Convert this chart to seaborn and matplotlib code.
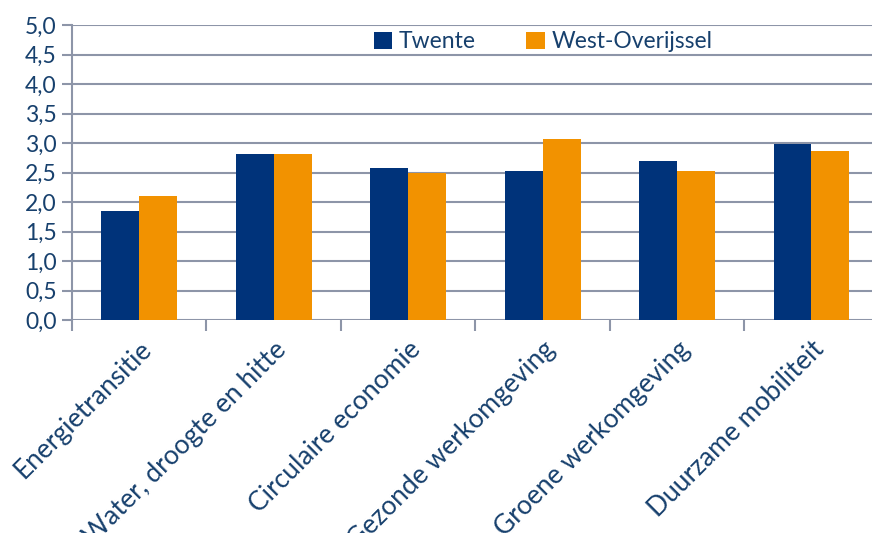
import matplotlib
matplotlib.use("Agg")
import matplotlib.pyplot as plt
import seaborn as sns
import pandas as pd
import numpy as np

categories = [
    "Energietransitie",
    "Water, droogte en hitte",
    "Circulaire economie",
    "Gezonde werkomgeving",
    "Groene werkomgeving",
    "Duurzame mobiliteit",
]
twente = [1.85, 2.82, 2.57, 2.53, 2.69, 2.99]
west_overijssel = [2.11, 2.82, 2.49, 3.07, 2.52, 2.86]
series_names = ["Twente", "West-Overijssel"]
yticks = [0.0, 0.5, 1.0, 1.5, 2.0, 2.5, 3.0, 3.5, 4.0, 4.5, 5.0]

df = pd.DataFrame({
    "categorie": categories * 2,
    "regio": [series_names[0]] * len(categories) + [series_names[1]] * len(categories),
    "score": twente + west_overijssel,
})

sns.set_theme(style="white")
plt.rcParams["font.family"] = ["Lato", "DejaVu Sans"]

text_color = "#17406D"
grid_color = "#8D95A8"
palette = {"Twente": "#00337A", "West-Overijssel": "#F29200"}

fig = plt.figure(figsize=(8.72, 5.33), dpi=100)
ax = fig.add_axes([72 / 872, 1 - 320 / 533, 800 / 872, 295 / 533])

sns.barplot(
    data=df, x="categorie", y="score", hue="regio",
    order=categories, hue_order=series_names, palette=palette,
    width=0.565, gap=0, saturation=1, linewidth=0, ax=ax,
)

ax.set_ylim(0, 5.0)
ax.set_xlim(-0.5, 5.45)
ax.set_yticks(yticks)
ax.set_yticklabels([f"{v:.1f}".replace(".", ",") for v in yticks],
                   fontsize=16.5, color=text_color)
ax.set_axisbelow(True)
ax.yaxis.grid(True, color=grid_color, linewidth=1.5)
ax.xaxis.grid(False)

for side in ["top", "right", "bottom"]:
    ax.spines[side].set_visible(False)
ax.spines["left"].set_color(grid_color)
ax.spines["left"].set_linewidth(1.5)

ax.tick_params(axis="y", which="major", length=7, width=1.5, color=grid_color,
               left=True, pad=4)

# Category labels at centres, boundary ticks between categories
ax.set_xticks(np.arange(len(categories)))
ax.set_xticklabels(categories, rotation=45, ha="right", rotation_mode="anchor",
                   fontsize=19, color=text_color)
ax.tick_params(axis="x", which="major", length=0, pad=12)
ax.set_xticks(np.arange(len(categories)) - 0.5, minor=True)
ax.tick_params(axis="x", which="minor", length=8, width=1.5, color=grid_color,
               bottom=True)

ax.set_xlabel("")
ax.set_ylabel("")

handles, labels = ax.get_legend_handles_labels()
ax.legend(handles, labels, loc="center", bbox_to_anchor=(543 / 872, 1 - 42 / 533),
          bbox_transform=fig.transFigure, ncol=2, frameon=False,
          fontsize=16.5, labelcolor=text_color, handlelength=0.8, handleheight=0.8,
          handletextpad=0.3, columnspacing=2.2)

fig.savefig("out.png", dpi=100)
